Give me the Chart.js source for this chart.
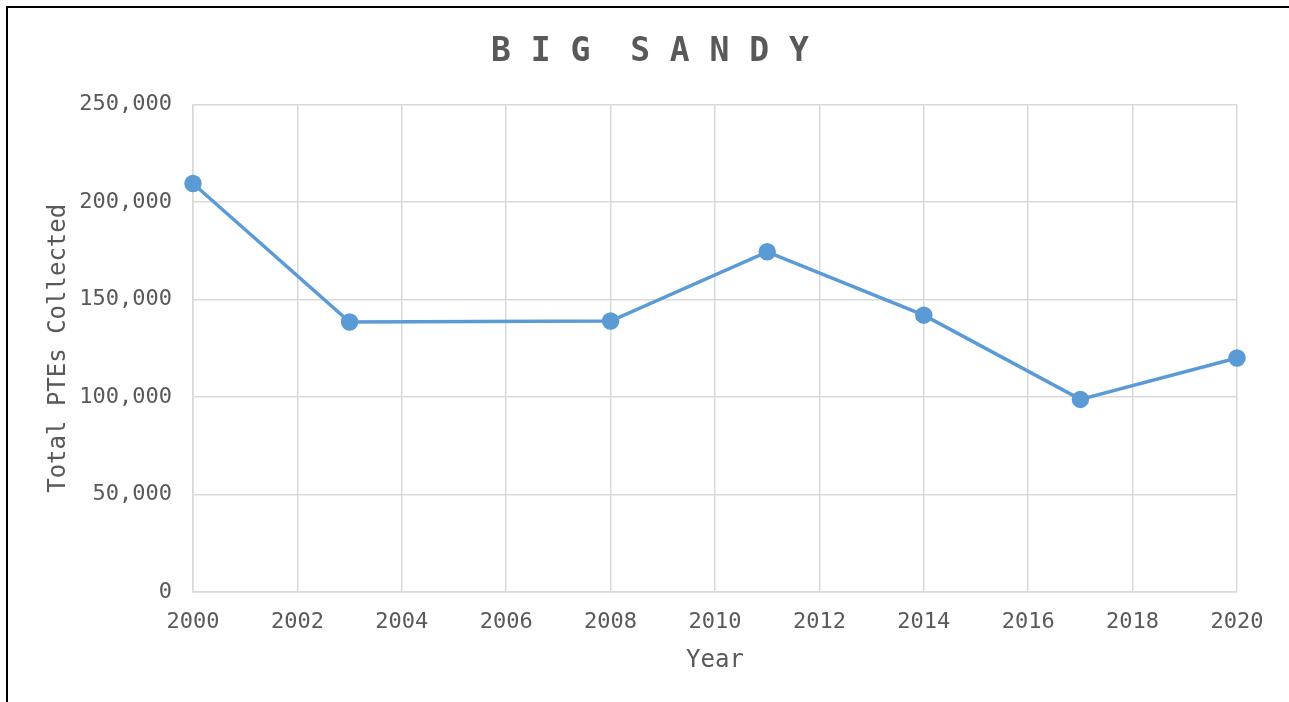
<!DOCTYPE html>
<html>
<head>
<meta charset="utf-8">
<script src="https://cdn.jsdelivr.net/npm/chart.js@4/dist/chart.umd.min.js"></script>
<style>
  html, body { margin: 0; padding: 0; background: #fff; overflow: hidden; }
  #wrap { position: relative; width: 1289px; height: 702px; }
  #frame {
    position: absolute; left: 6px; top: 6px; width: 1300px; height: 720px;
    border: 2px solid #000; pointer-events: none;
  }
</style>
</head>
<body>
<div id="wrap">
  <canvas id="chart" width="1289" height="702"></canvas>
  <div id="frame"></div>
</div>
<script>
// data
const years = [2000, 2003, 2008, 2011, 2014, 2017, 2020];
const ptes = [209500, 138500, 139000, 174500, 142000, 98800, 120000];
const yTicks = [0, 50000, 100000, 150000, 200000, 250000];
const xTicks = [2000, 2002, 2004, 2006, 2008, 2010, 2012, 2014, 2016, 2018, 2020];

const textGrey = "#595959";
const gridGrey = "#d9d9d9";
const mono = "'DejaVu Sans Mono', 'Liberation Mono', monospace";

new Chart(document.getElementById("chart"), {
    type: "line",
    data: {
        datasets: [{
            label: "Big Sandy",
            data: years.map((y, i) => ({ x: y, y: ptes[i] })),
            borderColor: "#5b9bd5",
            backgroundColor: "#5b9bd5",
            borderWidth: 3.5,
            pointRadius: 7,
            pointHoverRadius: 7,
            fill: false,
            tension: 0,
            clip: false
        }]
    },
    options: {
        responsive: false,
        animation: false,
        // left padding puts the title centre where the original has it
        layout: { padding: { left: 63, right: 52, top: 0, bottom: 0 } },
        plugins: {
            legend: { display: false },
            tooltip: { enabled: false },
            title: {
                display: true,
                text: "B I G  S A N D Y",
                color: textGrey,
                font: { family: mono, size: 33, weight: "bold" },
                padding: { top: 33, bottom: 32 }
            }
        },
        scales: {
            x: {
                type: "linear",
                min: 2000,
                max: 2020,
                afterBuildTicks: s => { s.ticks = xTicks.map(v => ({ value: v })); },
                afterFit: s => { s.height = 110; },
                grid: { color: gridGrey, lineWidth: 1.5, drawTicks: false },
                border: { color: gridGrey, width: 1.5 },
                ticks: {
                    color: textGrey,
                    font: { family: mono, size: 22 },
                    padding: 17,
                    maxRotation: 0,
                    callback: v => String(v)
                },
                title: {
                    display: true,
                    text: "Year",
                    color: textGrey,
                    font: { family: mono, size: 24 },
                    padding: { top: 0, bottom: 27 }
                }
            },
            y: {
                min: 0,
                max: 250000,
                afterBuildTicks: s => { s.ticks = yTicks.map(v => ({ value: v })); },
                afterFit: s => { s.width = 130; },
                grid: { color: gridGrey, lineWidth: 1.5, drawTicks: false },
                border: { color: gridGrey, width: 1.5 },
                ticks: {
                    color: textGrey,
                    font: { family: mono, size: 22 },
                    padding: 21,
                    callback: v => v.toLocaleString("en-US")
                },
                title: {
                    display: true,
                    text: "Total PTEs Collected",
                    color: textGrey,
                    font: { family: mono, size: 24 },
                    padding: { top: -19, bottom: 0 }
                }
            }
        }
    }
});
</script>
</body>
</html>
